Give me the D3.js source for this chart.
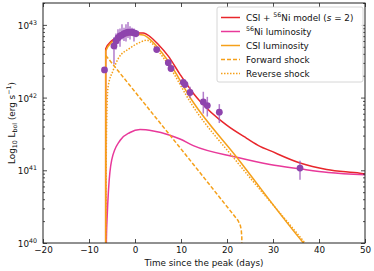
<!DOCTYPE html>
<html>
<head>
<meta charset="utf-8">
<script src="https://cdn.jsdelivr.net/npm/d3@7"></script>
<style>
  body { margin: 0; background: #fff; }
  svg { font-family: "DejaVu Sans", sans-serif; }
</style>
</head>
<body>
<svg id="chart" width="374" height="271"></svg>
<script>
// values: [time since peak (days), log10 L]
const modelTotal = [[-6.38, 39], [-6.37, 42.67], [-5.07, 42.78], [-2.89, 42.85], [0.0, 42.89], [1.8, 42.89],
  [3.26, 42.84], [5.07, 42.73], [7.24, 42.57], [9.78, 42.32], [12.67, 42.06], [14.13, 41.95], [19.93, 41.62],
  [24.28, 41.44], [27.17, 41.33], [29.35, 41.27], [35.87, 41.10], [41.67, 41.01], [48.9, 40.96], [50, 40.95]];
const niLum = [[-6.27, 39.5], [-6.22, 40.04], [-6.04, 40.38], [-5.76, 40.73], [-5.07, 41.14], [-3.26, 41.41],
  [-1.09, 41.52], [1.09, 41.56], [3.98, 41.54], [7.24, 41.49], [9.78, 41.43], [12.67, 41.34], [22.11, 41.18],
  [29.35, 41.08], [35.87, 41.02], [42, 40.97], [50, 40.94]];
const csiLum = [[-6.38, 39], [-6.37, 42.64], [-5.07, 42.76], [-2.89, 42.83], [0.0, 42.87], [1.8, 42.86],
  [3.26, 42.80], [5.07, 42.68], [7.24, 42.50], [12.4, 41.96], [22.11, 41.18], [36.63, 40.0], [37.3, 39.95]];
const forwardShock = [[-6.37, 42.58], [11.96, 41.14], [22.39, 40.31], [22.9, 40.24], [23.1, 40.18], [23.22, 40.08], [23.25, 39.5]];
const reverseShock = [[-6.36, 39.5], [-6.2, 41.5], [-5.87, 42.14], [-4.78, 42.37], [-3.7, 42.53], [-1.09, 42.68],
  [1.09, 42.76], [2.54, 42.79], [5.07, 42.64], [7.24, 42.45], [12.4, 41.90], [22.11, 41.12], [36.96, 40.0], [37.6, 39.95]];

// observed points: time, log10 L, lower err (dex), upper err (dex)
const obsT    = [-6.63, -4.57, -4.13, -3.70, -3.26, -2.83, -2.39, -1.96, -1.52, -1.09, -0.65, -0.22, 0.22,
  4.72, 7.24, 7.83, 10.50, 10.87, 11.96, 14.85, 15.72, 18.33, 35.87];
const obsLog  = [42.38, 42.71, 42.78, 42.82, 42.85, 42.86, 42.88, 42.89, 42.90, 42.90, 42.90, 42.89, 42.88,
  42.66, 42.48, 42.40, 42.21, 42.18, 42.07, 41.94, 41.89, 41.80, 41.03];
const obsLo   = [0.02, 0.25, 0.12, 0.08, 0.15, 0.06, 0.10, 0.12, 0.08, 0.10, 0.05, 0.12, 0.05,
  0.03, 0.03, 0.03, 0.03, 0.03, 0.08, 0.16, 0.15, 0.15, 0.16];
const obsHi   = [0.02, 0.12, 0.10, 0.12, 0.10, 0.15, 0.08, 0.12, 0.14, 0.08, 0.06, 0.06, 0.05,
  0.03, 0.03, 0.03, 0.03, 0.03, 0.08, 0.14, 0.12, 0.11, 0.10];

const xTicks = [-20, -10, 0, 10, 20, 30, 40, 50];
const yTicks = [40, 41, 42, 43];

const margin = { left: 43, right: 9, top: 3, bottom: 28 };
const W = 374, H = 271;
const svg = d3.select('#chart');

const x = d3.scaleLinear().domain([-20, 50]).range([margin.left, W - margin.right]);
const y = d3.scaleLog().domain([1e40, 2e43]).range([H - margin.bottom, margin.top]);

const orange = '#f5a01a', red = '#e8262b', pink = '#e8399a', purple = '#8e44ad';

svg.append('defs').append('clipPath').attr('id', 'clip')
  .append('rect')
  .attr('x', margin.left).attr('y', margin.top)
  .attr('width', x.range()[1] - margin.left)
  .attr('height', y.range()[0] - margin.top);

const line = d3.line()
  .x(d => x(d[0]))
  .y(d => y(Math.pow(10, d[1])))
  .curve(d3.curveMonotoneX);
const straight = d3.line()
  .x(d => x(d[0]))
  .y(d => y(Math.pow(10, d[1])));

const plot = svg.append('g').attr('clip-path', 'url(#clip)');

plot.append('path').datum(modelTotal).attr('d', line)
  .attr('fill', 'none').attr('stroke', red).attr('stroke-width', 1.5);
plot.append('path').datum(niLum).attr('d', line)
  .attr('fill', 'none').attr('stroke', pink).attr('stroke-width', 1.5);
plot.append('path').datum(csiLum).attr('d', line)
  .attr('fill', 'none').attr('stroke', orange).attr('stroke-width', 1.5);
plot.append('path').datum(forwardShock).attr('d', straight)
  .attr('fill', 'none').attr('stroke', orange).attr('stroke-width', 1.5)
  .attr('stroke-dasharray', '4,2');
plot.append('path').datum(reverseShock).attr('d', line)
  .attr('fill', 'none').attr('stroke', orange).attr('stroke-width', 1.5)
  .attr('stroke-dasharray', '1.5,1.5');

// observations
const obs = obsT.map((t, i) => ({ t, v: obsLog[i], lo: obsLo[i], hi: obsHi[i] }));
plot.selectAll('.err').data(obs).join('line')
  .attr('x1', d => x(d.t)).attr('x2', d => x(d.t))
  .attr('y1', d => y(Math.pow(10, d.v - d.lo)))
  .attr('y2', d => y(Math.pow(10, d.v + d.hi)))
  .attr('stroke', '#a05cc0').attr('stroke-width', 1.5).attr('opacity', 0.8);
plot.selectAll('.pt').data(obs).join('circle')
  .attr('cx', d => x(d.t)).attr('cy', d => y(Math.pow(10, d.v)))
  .attr('r', 3.4).attr('fill', purple);

// axes, ticks pointing in on all four sides
const fs = 8.8;
const xAxisBottom = svg.append('g').attr('transform', `translate(0,${y.range()[0]})`)
  .call(d3.axisBottom(x).tickValues(xTicks).tickSizeInner(-4).tickSizeOuter(0).tickPadding(4));
svg.append('g').attr('transform', `translate(0,${margin.top})`)
  .call(d3.axisTop(x).tickValues(xTicks).tickSizeInner(-4).tickSizeOuter(0).tickFormat(''));

const minor = [];
for (let e = 40; e < 44; e++) for (let m = 2; m <= 9; m++) {
  const v = m * Math.pow(10, e);
  if (v <= 2e43) minor.push(v);
}
svg.append('g').attr('transform', `translate(${margin.left},0)`)
  .call(d3.axisLeft(y).tickValues(yTicks.map(e => Math.pow(10, e))).tickSizeInner(-4).tickSizeOuter(0)
    .tickFormat(''));
svg.append('g').attr('transform', `translate(${margin.left},0)`)
  .call(d3.axisLeft(y).tickValues(minor).tickSizeInner(-2).tickSizeOuter(0).tickFormat(''));
svg.append('g').attr('transform', `translate(${x.range()[1]},0)`)
  .call(d3.axisRight(y).tickValues(yTicks.map(e => Math.pow(10, e))).tickSizeInner(-4).tickSizeOuter(0).tickFormat(''));
svg.append('g').attr('transform', `translate(${x.range()[1]},0)`)
  .call(d3.axisRight(y).tickValues(minor).tickSizeInner(-2).tickSizeOuter(0).tickFormat(''));

svg.selectAll('.domain').remove();
svg.selectAll('.tick line').attr('stroke', '#222').attr('stroke-width', 0.8);
xAxisBottom.selectAll('text').attr('font-size', fs).attr('font-family', 'DejaVu Sans').attr('fill', '#111');

// y tick labels as 10^n
yTicks.forEach(e => {
  const t = svg.append('text')
    .attr('x', margin.left - 6).attr('y', y(Math.pow(10, e)) + 4)
    .attr('text-anchor', 'end').attr('font-size', fs).attr('fill', '#111');
  t.append('tspan').text('10');
  t.append('tspan').attr('font-size', 6.3).attr('dy', -4).text(e);
});

svg.append('rect')
  .attr('x', margin.left).attr('y', margin.top)
  .attr('width', x.range()[1] - margin.left).attr('height', y.range()[0] - margin.top)
  .attr('fill', 'none').attr('stroke', '#222').attr('stroke-width', 1);

// axis titles
svg.append('text')
  .attr('x', (margin.left + x.range()[1]) / 2).attr('y', 266)
  .attr('text-anchor', 'middle').attr('font-size', fs).attr('fill', '#111')
  .text('Time since the peak (days)');

const yl = svg.append('text')
  .attr('transform', `translate(15,${(margin.top + y.range()[0]) / 2}) rotate(-90)`)
  .attr('text-anchor', 'middle').attr('font-size', fs).attr('fill', '#111');
yl.append('tspan').text('Log');
yl.append('tspan').attr('font-size', 6.3).attr('dy', 2).text('10');
yl.append('tspan').attr('dy', -2).text(' L');
yl.append('tspan').attr('font-size', 6.3).attr('dy', 2).text('bol');
yl.append('tspan').attr('dy', -2).text(' (erg s');
yl.append('tspan').attr('font-size', 6.3).attr('dy', -4).text('\u22121');
yl.append('tspan').attr('dy', 4).text(')');

// legend
const legendItems = [
  { key: 'total', color: red, dash: null },
  { key: 'ni', color: pink, dash: null },
  { key: 'csi', color: orange, dash: null },
  { key: 'fs', color: orange, dash: '4,2' },
  { key: 'rs', color: orange, dash: '1.5,1.5' }
];
const lg = svg.append('g');
lg.append('rect')
  .attr('x', 217).attr('y', 7).attr('width', 146).attr('height', 75).attr('rx', 2)
  .attr('fill', '#fff').attr('fill-opacity', 0.85).attr('stroke', '#ccc').attr('stroke-width', 0.8);
legendItems.forEach((it, i) => {
  const yy = 17.5 + i * 14;
  lg.append('line').attr('x1', 221).attr('x2', 240).attr('y1', yy).attr('y2', yy)
    .attr('stroke', it.color).attr('stroke-width', 1.5)
    .attr('stroke-dasharray', it.dash);
  const t = lg.append('text').attr('x', 246).attr('y', yy + 3.2).attr('font-size', fs).attr('fill', '#111');
  if (it.key === 'total') {
    t.append('tspan').text('CSI + ');
    t.append('tspan').attr('font-size', 6.3).attr('dy', -3.5).text('56');
    t.append('tspan').attr('dy', 3.5).text('Ni model (');
    t.append('tspan').attr('font-style', 'italic').text('s');
    t.append('tspan').text(' = 2)');
  } else if (it.key === 'ni') {
    t.append('tspan').attr('font-size', 6.3).attr('dy', -3.5).text('56');
    t.append('tspan').attr('dy', 3.5).text('Ni luminosity');
  } else if (it.key === 'csi') {
    t.text('CSI luminosity');
  } else if (it.key === 'fs') {
    t.text('Forward shock');
  } else {
    t.text('Reverse shock');
  }
});
</script>
</body>
</html>
